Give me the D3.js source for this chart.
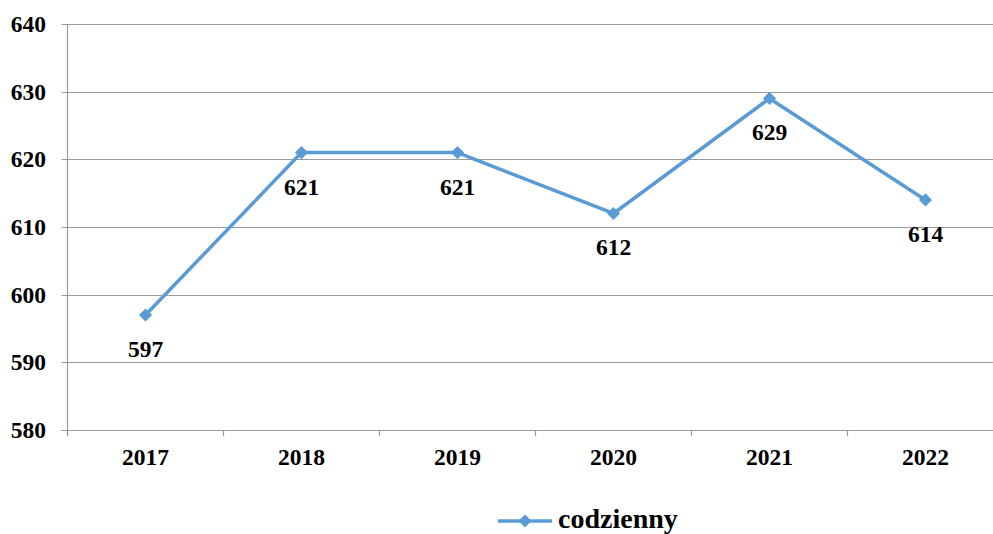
<!DOCTYPE html>
<html>
<head>
<meta charset="utf-8">
<script src="https://cdn.jsdelivr.net/npm/d3@7"></script>
<style>
  html, body { margin: 0; padding: 0; background: #fff; }
  svg { display: block; }
  text { font-family: "Liberation Serif", "Times New Roman", serif; font-weight: bold; fill: #000; }
</style>
</head>
<body>
<svg id="chart" width="993" height="534"></svg>
<script>
// Yearly counts, daily series
const years = ["2017", "2018", "2019", "2020", "2021", "2022"];
const values = [597, 621, 621, 612, 629, 614];
const yTicks = [580, 590, 600, 610, 620, 630, 640];
const seriesName = "codzienny";

const svg = d3.select("#chart");
const W = 993;
const plotLeft = 67.5, plotRight = 1003.5, plotTop = 24, plotBottom = 430;
const color = "#5B9BD5";
const labelSize = 23.5;

const x = d3.scaleBand().domain(years).range([plotLeft, plotRight]);
const y = d3.scaleLinear().domain([580, 640]).range([plotBottom, plotTop]);

// horizontal gridlines
svg.append("g")
  .selectAll("line")
  .data(yTicks)
  .join("line")
  .attr("x1", plotLeft - 6).attr("x2", W)
  .attr("y1", d => Math.round(y(d)) + 0.5).attr("y2", d => Math.round(y(d)) + 0.5)
  .attr("stroke", "#9a9a9a").attr("stroke-width", 1.2);

// y axis line
svg.append("line")
  .attr("x1", plotLeft).attr("x2", plotLeft)
  .attr("y1", plotTop).attr("y2", plotBottom + 6)
  .attr("stroke", "#9a9a9a").attr("stroke-width", 1.2);

// x category ticks
const xTickPos = years.map(d => x(d)).concat([x(years[years.length - 1]) + x.bandwidth()]);
svg.append("g")
  .selectAll("line")
  .data(xTickPos)
  .join("line")
  .attr("x1", d => d).attr("x2", d => d)
  .attr("y1", plotBottom).attr("y2", plotBottom + 6)
  .attr("stroke", "#9a9a9a").attr("stroke-width", 1.2);

// y tick labels
svg.append("g")
  .selectAll("text")
  .data(yTicks)
  .join("text")
  .attr("x", 46).attr("y", d => y(d) + 8)
  .attr("text-anchor", "end")
  .attr("font-size", labelSize)
  .text(d => d);

// x tick labels
svg.append("g")
  .selectAll("text")
  .data(years)
  .join("text")
  .attr("x", d => x(d) + x.bandwidth() / 2)
  .attr("y", 465)
  .attr("text-anchor", "middle")
  .attr("font-size", labelSize)
  .text(d => d);

const pts = years.map((yr, i) => ({ yr, v: values[i] }));
const cx = d => x(d.yr) + x.bandwidth() / 2;

// series line
svg.append("path")
  .datum(pts)
  .attr("fill", "none")
  .attr("stroke", color)
  .attr("stroke-width", 3.5)
  .attr("stroke-linejoin", "round")
  .attr("d", d3.line().x(cx).y(d => y(d.v)));

// diamond markers
const diamond = d3.symbol().type(d3.symbolDiamond2).size(110);
svg.append("g")
  .selectAll("path")
  .data(pts)
  .join("path")
  .attr("transform", d => `translate(${cx(d)},${y(d.v)})`)
  .attr("d", diamond)
  .attr("fill", color);

// value labels under points
svg.append("g")
  .selectAll("text")
  .data(pts)
  .join("text")
  .attr("x", cx)
  .attr("y", d => y(d.v) + 42)
  .attr("text-anchor", "middle")
  .attr("font-size", labelSize)
  .text(d => d.v);

// legend
const lg = svg.append("g").attr("transform", "translate(498,521)");
lg.append("line")
  .attr("x1", 0).attr("x2", 54)
  .attr("y1", 0).attr("y2", 0)
  .attr("stroke", color).attr("stroke-width", 3.5);
lg.append("path")
  .attr("transform", "translate(27,0)")
  .attr("d", diamond)
  .attr("fill", color);
lg.append("text")
  .attr("x", 60).attr("y", 7)
  .attr("font-size", 28)
  .text(seriesName);
</script>
</body>
</html>
